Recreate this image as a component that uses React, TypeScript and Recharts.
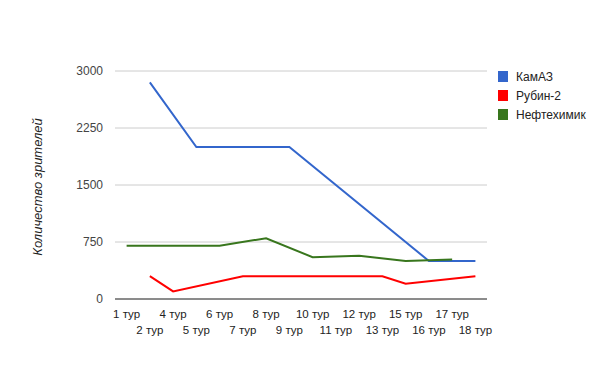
import React from 'react';
import { LineChart, Line, XAxis, YAxis, CartesianGrid } from 'recharts';

const categories = ['1 тур', '2 тур', '4 тур', '5 тур', '6 тур', '7 тур', '8 тур', '9 тур', '10 тур', '11 тур', '12 тур', '13 тур', '15 тур', '16 тур', '17 тур', '18 тур'];
const kamaz = [null, 2850, null, 2000, 2000, 2000, 2000, 2000, null, null, null, null, null, 500, 500, 500];
const rubin = [null, 300, 100, null, null, 300, 300, 300, 300, 300, 300, 300, 200, null, null, 300];
const neftekhimik = [700, 700, 700, 700, 700, null, 800, null, 550, null, 570, null, 500, null, 520, null];
const yTicks = [0, 750, 1500, 2250, 3000];

const seriesNames = ['КамАЗ', 'Рубин-2', 'Нефтехимик'];
const seriesColors = ['#3366cc', '#ff0000', '#38761d'];

const data = categories.map((c, i) => ({
  name: c,
  kamaz: kamaz[i],
  rubin: rubin[i],
  neft: neftekhimik[i],
}));

const FONT = '"Liberation Sans", Arial, sans-serif';

const XTick = (props: any) => {
  const { x, y, payload, index } = props;
  const row = index % 2;
  return (
    <text x={x} y={y + (row ? 35 : 19)} textAnchor="middle" fontFamily={FONT} fontSize={11.5} fill="#222">
      {payload.value}
    </text>
  );
};

export default function App() {
  return (
    <div style={{ position: 'absolute', left: 0, top: 0, width: 600, height: 371, background: '#fff' }}>
      <LineChart width={600} height={371} data={data} margin={{ top: 71, right: 113, bottom: 0, left: 0 }}>
        <CartesianGrid horizontal vertical={false} stroke="#cccccc" />
        <XAxis
          dataKey="name"
          interval={0}
          tick={<XTick />}
          tickLine={false}
          tickSize={0}
          tickMargin={0}
          axisLine={{ stroke: '#333333' }}
          height={72}
          padding={{ left: 11.6, right: 11.6 }}
        />
        <YAxis
          width={115}
          domain={[0, 3000]}
          ticks={yTicks}
          tickLine={false}
          axisLine={false}
          tickSize={0}
          tickMargin={12}
          tick={{ fontFamily: FONT, fontSize: 12, fill: '#444' }}
          label={{
            content: () => (
              <text
                x={42}
                y={187}
                transform="rotate(-90, 42, 187)"
                textAnchor="middle"
                fontFamily={FONT}
                fontSize={13}
                fontStyle="italic"
                fill="#222"
              >
                Количество зрителей
              </text>
            ),
          }}
        />
        <Line type="linear" dataKey="kamaz" name={seriesNames[0]} stroke={seriesColors[0]} strokeWidth={2} dot={false} connectNulls isAnimationActive={false} />
        <Line type="linear" dataKey="rubin" name={seriesNames[1]} stroke={seriesColors[1]} strokeWidth={2} dot={false} connectNulls isAnimationActive={false} />
        <Line type="linear" dataKey="neft" name={seriesNames[2]} stroke={seriesColors[2]} strokeWidth={2} dot={false} connectNulls isAnimationActive={false} />
      </LineChart>
      <div style={{ position: 'absolute', left: 498, top: 67, fontFamily: FONT, fontSize: 12, color: '#222' }}>
        {seriesNames.map((n, i) => (
          <div key={n} style={{ display: 'flex', alignItems: 'center', height: 19 }}>
            <div style={{ width: 10, height: 11, background: seriesColors[i], marginRight: 8 }} />
            <span>{n}</span>
          </div>
        ))}
      </div>
    </div>
  );
}
